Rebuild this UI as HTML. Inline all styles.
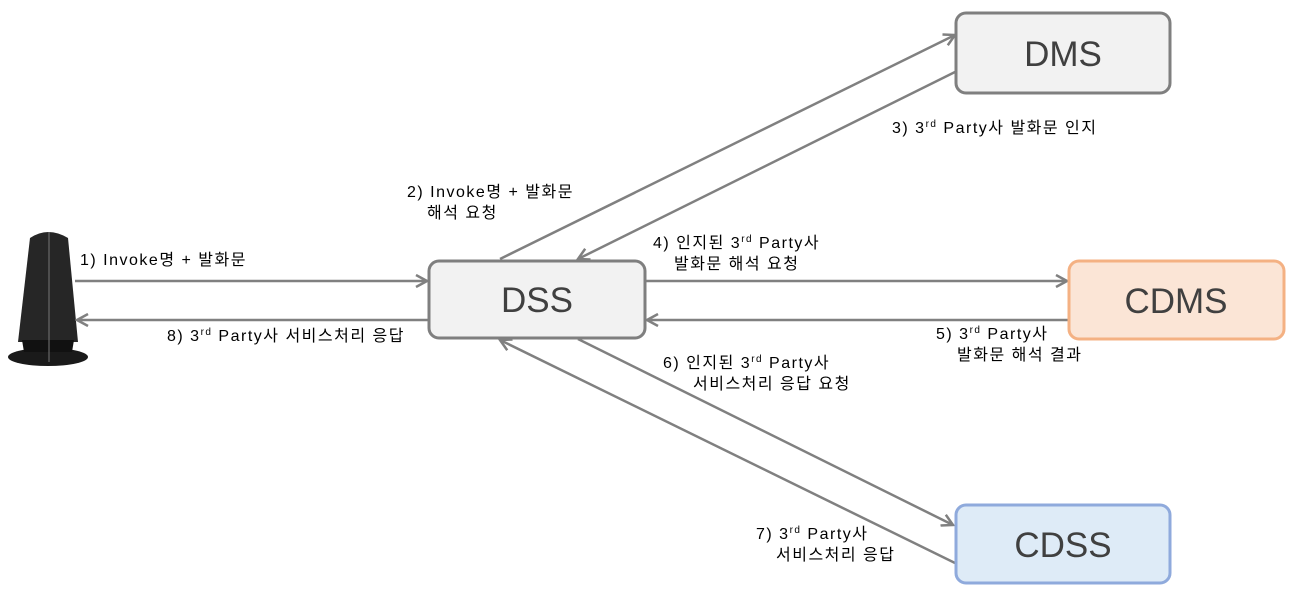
<!DOCTYPE html>
<html><head><meta charset="utf-8"><style>
body{margin:0;background:#fff;width:1296px;height:598px;overflow:hidden}
text{font-family:"Liberation Sans","Noto Sans CJK KR",sans-serif;fill:#000}
.l{font-size:16px;letter-spacing:1.5px}
.b{font-size:35px;fill:#404040;text-anchor:middle}
</style></head><body>
<svg width="1296" height="598" viewBox="0 0 1296 598">
<defs><marker id="a" markerWidth="14" markerHeight="14" refX="12" refY="7" orient="auto" markerUnits="userSpaceOnUse"><path d="M1,1 L12,7 L1,13" fill="none" stroke="#808080" stroke-width="2.5"/></marker></defs>
<!-- device -->
<ellipse cx="48" cy="357" rx="40" ry="9" fill="#1a1a1a"/>
<path d="M30,238 Q48,226 68,238 L78,342 L18,342 Z" fill="#262626"/>
<path d="M22,340 L74,340 L72,352 L24,352 Z" fill="#111"/>
<line x1="49" y1="232" x2="49" y2="362" stroke="#777" stroke-width="1"/>
<g stroke="#808080" stroke-width="2.5" fill="none" marker-end="url(#a)">
<line x1="75" y1="281" x2="427" y2="281"/>
<line x1="429" y1="320" x2="77" y2="320"/>
<line x1="500" y1="259" x2="955" y2="35"/>
<line x1="955" y1="72" x2="578" y2="259"/>
<line x1="646" y1="281" x2="1067" y2="281"/>
<line x1="1069" y1="320" x2="647" y2="320"/>
<line x1="578" y1="339" x2="953" y2="525"/>
<line x1="955" y1="563" x2="500" y2="340"/>
</g>
<rect x="429" y="261" width="216" height="77" rx="10" fill="#f2f2f2" stroke="#7f7f7f" stroke-width="3"/>
<text class="b" x="537" y="312">DSS</text>
<rect x="956" y="13" width="214" height="80" rx="10" fill="#f2f2f2" stroke="#7f7f7f" stroke-width="3"/>
<text class="b" x="1063" y="66">DMS</text>
<rect x="1069" y="261" width="215" height="78" rx="10" fill="#fbe5d6" stroke="#f4b183" stroke-width="3"/>
<text class="b" x="1176" y="313">CDMS</text>
<rect x="956" y="505" width="214" height="78" rx="10" fill="#deebf7" stroke="#8faadc" stroke-width="3"/>
<text class="b" x="1063" y="557">CDSS</text>
<text class="l" x="80" y="265">1) Invoke명 + 발화문</text>
<text class="l" x="167" y="341">8) 3<tspan font-size="10" dy="-6">rd</tspan><tspan dy="6"> Party사 서비스처리 응답</tspan></text>
<text class="l" x="407" y="197">2) Invoke명 + 발화문</text>
<text class="l" x="427" y="218">해석 요청</text>
<text class="l" x="892" y="133">3) 3<tspan font-size="10" dy="-6">rd</tspan><tspan dy="6"> Party사 발화문 인지</tspan></text>
<text class="l" x="653" y="248">4) 인지된 3<tspan font-size="10" dy="-6">rd</tspan><tspan dy="6"> Party사</tspan></text>
<text class="l" x="674" y="269">발화문 해석 요청</text>
<text class="l" x="936" y="339">5) 3<tspan font-size="10" dy="-6">rd</tspan><tspan dy="6"> Party사</tspan></text>
<text class="l" x="957" y="360">발화문 해석 결과</text>
<text class="l" x="663" y="368">6) 인지된 3<tspan font-size="10" dy="-6">rd</tspan><tspan dy="6"> Party사</tspan></text>
<text class="l" x="693" y="389">서비스처리 응답 요청</text>
<text class="l" x="756" y="539">7) 3<tspan font-size="10" dy="-6">rd</tspan><tspan dy="6"> Party사</tspan></text>
<text class="l" x="776" y="560">서비스처리 응답</text>
</svg>
</body></html>
